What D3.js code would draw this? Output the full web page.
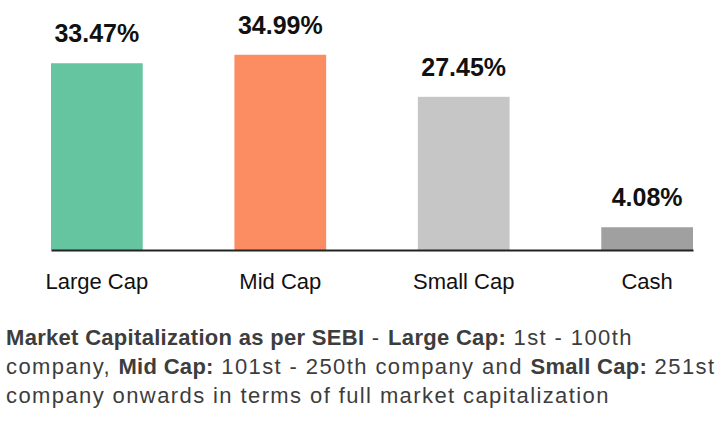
<!DOCTYPE html>
<html>
<head>
<meta charset="utf-8">
<script src="https://cdn.jsdelivr.net/npm/d3@7"></script>
<style>
  body { margin: 0; background: #fff; }
  svg { display: block; }
</style>
</head>
<body>
<div id="chart"></div>
<script>
var categories = ["Large Cap", "Mid Cap", "Small Cap", "Cash"];
var values = [33.47, 34.99, 27.45, 4.08];
var colors = ["#66c5a1", "#fc8d62", "#c6c6c6", "#a0a0a0"];
var valueLabels = ["33.47%", "34.99%", "27.45%", "4.08%"];
var noteLines = [
	[["Market Capitalization as per SEBI", true], [" - ", false], ["Large Cap:", true], [" 1st - 100th", false]],
	[["company, ", false], ["Mid Cap:", true], [" 101st - 250th company and ", false], ["Small Cap:", true], [" 251st", false]],
	[["company onwards in terms of full market capitalization", false]]
];

var width = 721, height = 423;
var svg = d3.select("#chart").append("svg")
	.attr("width", width)
	.attr("height", height);

// SCALES
var x = d3.scaleBand()
	.domain(categories)
	.range([51, 693])
	.paddingInner(0.5)
	.paddingOuter(0);
var y = d3.scaleLinear()
	.domain([0, 40])
	.range([250, 26.8]);

var labelFont = "'Liberation Sans', Arial, sans-serif";
var valueFont = "'Liberation Sans Narrow', 'Arial Narrow', 'Liberation Sans', sans-serif";

// Bars
svg.selectAll("rect.bar")
	.data(values)
	.enter()
	.append("rect")
	.attr("class", "bar")
	.attr("x", (d, i) => x(categories[i]))
	.attr("y", d => y(d))
	.attr("width", x.bandwidth())
	.attr("height", d => y(0) - y(d))
	.attr("fill", (d, i) => colors[i]);

// Value labels
svg.selectAll("text.value")
	.data(values)
	.enter()
	.append("text")
	.attr("class", "value")
	.attr("x", (d, i) => x(categories[i]) + x.bandwidth() / 2)
	.attr("y", d => y(d) - 21)
	.attr("text-anchor", "middle")
	.attr("font-family", valueFont)
	.attr("font-weight", "bold")
	.attr("font-size", "25px")
	.attr("fill", "#111")
	.text((d, i) => valueLabels[i]);

// X axis line
var xAxis = d3.axisBottom(x).tickSize(0).tickPadding(0);
var axisG = svg.append("g")
	.attr("transform", "translate(0, " + y(0) + ")")
	.call(xAxis);
axisG.select(".domain")
	.attr("stroke", "#222")
	.attr("stroke-width", 2);
axisG.selectAll(".tick text")
	.attr("y", 39)
	.attr("dy", 0)
	.attr("font-family", labelFont)
	.attr("font-size", "22px")
	.attr("fill", "#111");

// Footnote
var note = svg.append("text")
	.attr("font-family", labelFont)
	.attr("font-size", "22px")
	.attr("fill", "#3d3d3d");
noteLines.forEach((line, i) => {
	line.forEach((part, j) => {
		var t = note.append("tspan")
			.attr("font-weight", part[1] ? "bold" : "normal")
			.attr("letter-spacing", part[1] ? "0.3px" : "1.4px")
			.text(part[0]);
		if (j === 0) t.attr("x", 6).attr("y", 345 + i * 29);
	});
});
</script>
</body>
</html>
